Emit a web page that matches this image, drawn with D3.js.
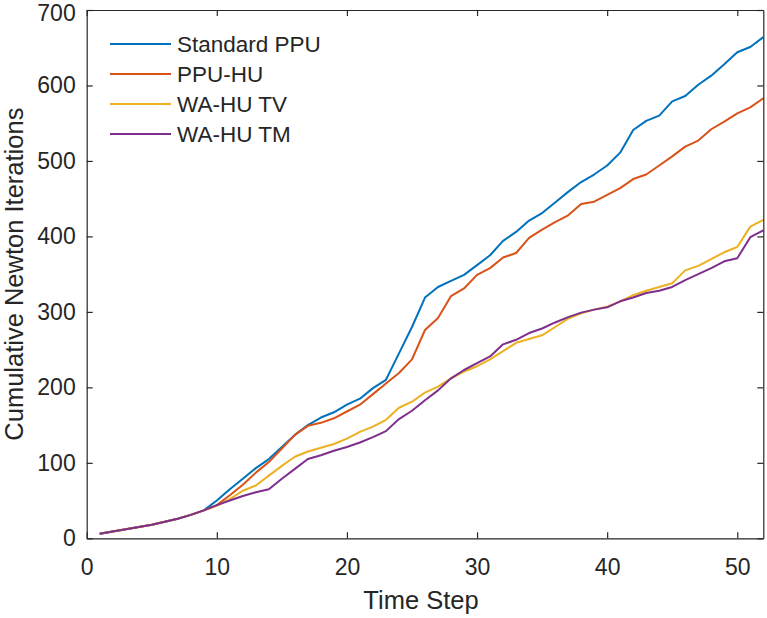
<!DOCTYPE html>
<html>
<head>
<meta charset="utf-8">
<script src="https://cdn.jsdelivr.net/npm/d3@7"></script>
<style>
  body { margin: 0; background: #fff; }
  svg text { font-family: "Liberation Sans", Arial, sans-serif; fill: #262626; }
</style>
</head>
<body>
<div id="chart"></div>
<script>
// time steps 1..52
var steps = d3.range(1, 53);

// cumulative Newton iterations
var standardPPU = [6, 9, 12, 15, 18, 22, 26, 31, 37,
    50, 65, 79, 93, 105, 121, 137, 150, 160, 167, 177, 185, 199, 210, 245, 280,
    319, 333, 341, 349, 362, 375, 394, 406, 421, 431, 445, 459, 472, 482, 494,
    511, 541, 553, 560, 579, 586, 601, 613, 628, 644, 651, 664];
var ppuHU = [6, 9, 12, 15, 18, 22, 26, 31, 37,
    44, 57, 71, 87, 101, 119, 137, 149, 153, 159, 168, 177, 191, 205, 219, 237,
    276, 292, 321, 331, 349, 358, 372, 378, 398, 409, 419, 428, 443, 446, 455,
    464, 476, 482, 494, 506, 519, 527, 542, 552, 563, 571, 583];
var waTV = [6, 9, 12, 15, 18, 22, 26, 31, 37,
    43, 52, 63, 70, 83, 96, 108, 115, 120, 125, 132, 141, 148, 157, 173, 181,
    193, 201, 212, 221, 228, 237, 248, 259, 264, 269, 280, 291, 298, 303, 307,
    314, 322, 328, 333, 338, 355, 361, 370, 379, 386, 413, 422];
var waTM = [6, 9, 12, 15, 18, 22, 26, 31, 37,
    44, 50, 56, 61, 65, 79, 92, 105, 110, 116, 121, 127, 134, 142, 158, 169,
    183, 196, 212, 223, 232, 241, 257, 263, 272, 278, 286, 293, 299, 303, 306,
    314, 319, 325, 328, 333, 342, 350, 358, 367, 371, 399, 408];

var seriesNames = ["Standard PPU", "PPU-HU", "WA-HU TV", "WA-HU TM"];
var seriesColors = ["#0072BD", "#D95319", "#EDB120", "#7E2F8E"];
var xTicks = [0, 10, 20, 30, 40, 50];
var yTicks = [0, 100, 200, 300, 400, 500, 600, 700];

var width = 767, height = 618;
var margin = {top: 10, right: 3.7, bottom: 79.7, left: 86.7};

var svg = d3.select("#chart").append("svg")
    .attr("width", width)
    .attr("height", height);

var x = d3.scaleLinear()
    .domain([0, 52])
    .range([margin.left, width - margin.right]);

var y = d3.scaleLinear()
    .domain([0, 700])
    .range([height - margin.bottom, margin.top]);

var allSeries = [standardPPU, ppuHU, waTV, waTM];

var line = d3.line()
    .x(function(d, i) { return x(steps[i]); })
    .y(function(d) { return y(d); });

// lines
svg.append("g").selectAll("path")
    .data(allSeries)
    .enter().append("path")
    .attr("d", line)
    .attr("fill", "none")
    .attr("stroke", function(d, i) { return seriesColors[i]; })
    .attr("stroke-width", 2)
    .attr("stroke-linejoin", "round");

// axes, MATLAB style box with inward ticks
var tickLen = 6;
var axisColor = "#262626";

var xAxis = svg.append("g")
    .attr("transform", "translate(0," + y(0) + ")")
    .call(d3.axisBottom(x).tickValues(xTicks).tickSizeInner(-tickLen).tickSizeOuter(0).tickPadding(20));
var xAxisTop = svg.append("g")
    .attr("transform", "translate(0," + y(700) + ")")
    .call(d3.axisTop(x).tickValues(xTicks).tickSizeInner(-tickLen).tickSizeOuter(0).tickFormat(""));
var yAxis = svg.append("g")
    .attr("transform", "translate(" + x(0) + ",0)")
    .call(d3.axisLeft(y).tickValues(yTicks).tickSizeInner(-tickLen).tickSizeOuter(0).tickPadding(11));
var yAxisRight = svg.append("g")
    .attr("transform", "translate(" + x(52) + ",0)")
    .call(d3.axisRight(y).tickValues(yTicks).tickSizeInner(-tickLen).tickSizeOuter(0).tickFormat(""));

[xAxis, xAxisTop, yAxis, yAxisRight].forEach(function(a) {
    a.select(".domain").attr("stroke", axisColor).attr("stroke-width", 1.2);
    a.selectAll(".tick line").attr("stroke", axisColor).attr("stroke-width", 1.2);
    a.selectAll(".tick text")
        .style("font-family", "Liberation Sans, Arial, sans-serif")
        .style("font-size", "23px")
        .attr("fill", axisColor);
});
xAxis.selectAll(".tick text").attr("dy", "0.71em");
// top label sits against the edge, nudge it down a touch like the reference
yAxis.selectAll(".tick text").filter(function(d) { return d === 700; }).attr("dy", "0.45em");

// axis titles
svg.append("text")
    .attr("x", 421)
    .attr("y", 609)
    .attr("text-anchor", "middle")
    .style("font-size", "25.5px")
    .text("Time Step");

svg.append("text")
    .attr("transform", "translate(23," + ((y(0) + y(700)) / 2) + ") rotate(-90)")
    .attr("text-anchor", "middle")
    .style("font-size", "25.5px")
    .text("Cumulative Newton Iterations");

// legend (no box)
var legend = svg.append("g").attr("class", "legend");
var legendY = [44, 74, 104, 134];

legend.selectAll("line")
    .data(seriesNames)
    .enter().append("line")
    .attr("x1", 110)
    .attr("x2", 171)
    .attr("y1", function(d, i) { return legendY[i]; })
    .attr("y2", function(d, i) { return legendY[i]; })
    .attr("stroke", function(d, i) { return seriesColors[i]; })
    .attr("stroke-width", 2);

legend.selectAll("text")
    .data(seriesNames)
    .enter().append("text")
    .attr("x", 177)
    .attr("y", function(d, i) { return legendY[i]; })
    .attr("dy", "0.36em")
    .style("font-size", "22.5px")
    .text(function(d) { return d; });
</script>
</body>
</html>
